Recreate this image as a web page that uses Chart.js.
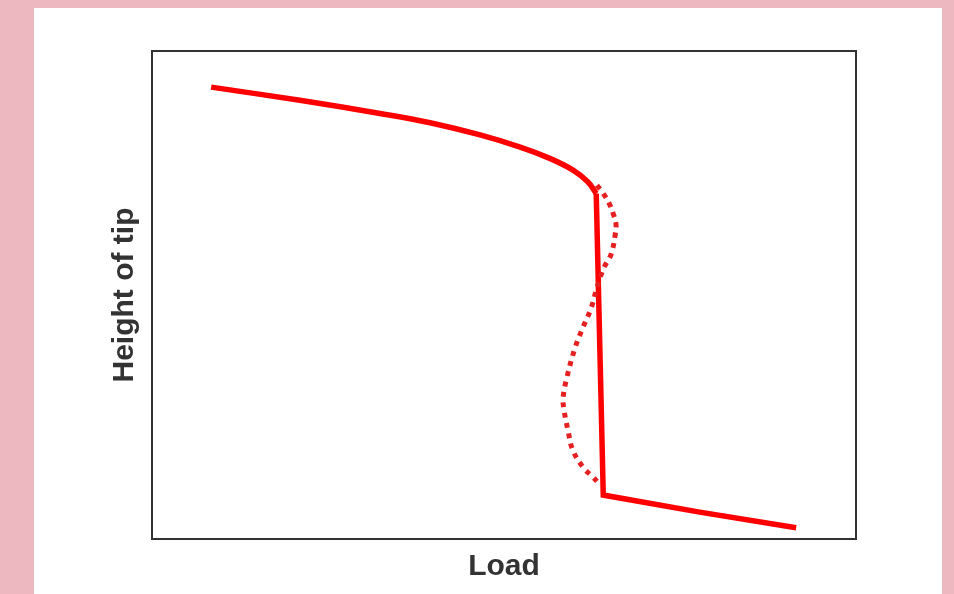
<!DOCTYPE html>
<html>
<head>
<meta charset="utf-8">
<script src="https://cdn.jsdelivr.net/npm/chart.js@4/dist/chart.umd.min.js"></script>
<style>
  html, body { margin: 0; padding: 0; }
  body { width: 954px; height: 594px; background: #eeb8c0; position: relative; overflow: hidden; }
  .panel { position: absolute; left: 34px; top: 8px; width: 908px; height: 600px; background: #fff; }
  .wrap { position: absolute; left: 0; top: 0; width: 954px; height: 594px; }
</style>
</head>
<body>
<div class="panel"></div>
<div class="wrap"><canvas id="foldChart" width="954" height="594"></canvas></div>
<script>
// ---------- Data (Load vs. height of tip, arbitrary units) ----------
// upper stable branch
const upperLoad   = [8.4, 21.0, 32.4, 39.5, 46.6, 52.3, 56.5, 59.8, 61.9, 63.1];
const upperHeight = [92.6, 89.9, 87.2, 85.3, 82.8, 80.3, 78.0, 75.6, 73.2, 70.8];

// jump down + lower stable branch
const lowerLoad   = [63.1, 64.1, 77.8, 91.5];
const lowerHeight = [70.8, 9.0, 5.5, 2.3];

// unstable (dotted) path
const dottedLoad   = [63.2, 64.1, 64.9, 65.5, 65.9, 65.8, 65.2, 64.2, 63.2, 62.4, 61.2,
                      60.1, 58.9, 58.4, 58.5, 59.1, 59.8, 61.4, 62.5, 63.5];
const dottedHeight = [72.5, 70.8, 68.9, 66.7, 64.7, 62.4, 58.3, 55.6, 51.5, 47.4, 43.3,
                      39.2, 32.9, 29.0, 26.7, 22.2, 18.1, 14.4, 12.9, 11.3];

const AXIS_TITLE_FONT = { family: "'Liberation Sans', Arial, sans-serif", size: 30, weight: 'bold' };

// ---------- Helpers ----------
function toPoints(xs, ys) {
  return xs.map((x, i) => ({ x, y: ys[i] }));
}

// full box round the plot area
const framePlugin = {
  id: 'frame',
  afterDraw(chart) {
    const { ctx, chartArea: a } = chart;
    ctx.save();
    ctx.strokeStyle = '#333333';
    ctx.lineWidth = 2;
    ctx.strokeRect(a.left, a.top, a.right - a.left, a.bottom - a.top);
    ctx.restore();
  },
};

// ---------- Chart ----------
const ctx = document.getElementById('foldChart').getContext('2d');

new Chart(ctx, {
  type: 'scatter',
  data: {
    datasets: [
      {
        data: toPoints(dottedLoad, dottedHeight),
        showLine: true,
        borderColor: '#e62020',
        borderWidth: 5,
        borderDash: [5, 5.5],
        tension: 0.4,
        pointRadius: 0,
      },
      {
        data: toPoints(upperLoad, upperHeight),
        showLine: true,
        borderColor: '#ff0000',
        borderWidth: 5.5,
        tension: 0.4,
        pointRadius: 0,
      },
      {
        data: toPoints(lowerLoad, lowerHeight),
        showLine: true,
        borderColor: '#ff0000',
        borderWidth: 5.5,
        tension: 0,
        pointRadius: 0,
      },
    ],
  },
  options: {
    responsive: false,
    animation: false,
    layout: { padding: { left: 100, right: 98, top: 51, bottom: 9 } },
    plugins: {
      legend:  { display: false },
      tooltip: { enabled: false },
    },
    scales: {
      x: {
        min: 0,
        max: 100,
        grid:   { display: false, drawTicks: false },
        border: { display: false },
        ticks:  { display: false },
        title: {
          display: true,
          text: 'Load',
          color: '#333333',
          font: AXIS_TITLE_FONT,
          padding: { top: 10, bottom: 0 },
        },
      },
      y: {
        min: 0,
        max: 100,
        grid:   { display: false, drawTicks: false },
        border: { display: false },
        ticks:  { display: false },
        title: {
          display: true,
          text: 'Height of tip',
          color: '#333333',
          font: AXIS_TITLE_FONT,
          padding: { top: 7, bottom: 9 },
        },
      },
    },
  },
  plugins: [framePlugin],
});
</script>
</body>
</html>
